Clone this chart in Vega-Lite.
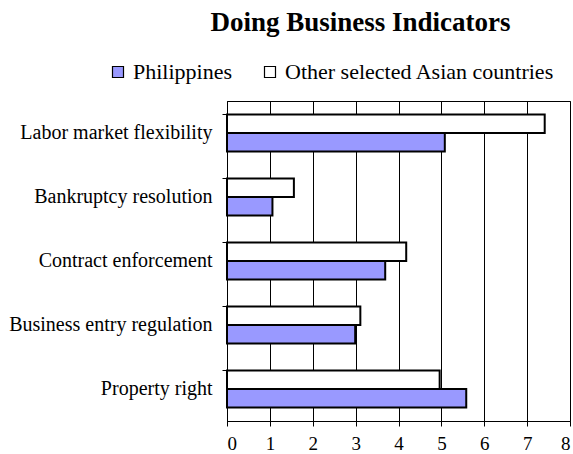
{
  "$schema": "https://vega.github.io/schema/vega-lite/v6.json",
  "width": 343,
  "height": 320,
  "autosize": {"type": "none"},
  "padding": {"left": 227, "top": 101, "right": 3, "bottom": 33},
  "background": "white",
  "title": {"text": "Doing Business Indicators", "font": "Liberation Serif", "fontSize": 27, "fontWeight": "bold", "anchor": "middle", "dx": -38, "dy": -20, "color": "black"},
  "data": {"values": [
    {"indicator": "Labor market flexibility", "series": "Other selected Asian countries", "value": 7.41},
    {"indicator": "Labor market flexibility", "series": "Philippines", "value": 5.08},
    {"indicator": "Bankruptcy resolution", "series": "Other selected Asian countries", "value": 1.56},
    {"indicator": "Bankruptcy resolution", "series": "Philippines", "value": 1.06},
    {"indicator": "Contract enforcement", "series": "Other selected Asian countries", "value": 4.18},
    {"indicator": "Contract enforcement", "series": "Philippines", "value": 3.69},
    {"indicator": "Business entry regulation", "series": "Other selected Asian countries", "value": 3.11},
    {"indicator": "Business entry regulation", "series": "Philippines", "value": 2.99},
    {"indicator": "Property right", "series": "Other selected Asian countries", "value": 4.96},
    {"indicator": "Property right", "series": "Philippines", "value": 5.58}
  ]},
  "mark": {"type": "bar", "stroke": "black", "strokeWidth": 2},
  "encoding": {
    "y": {
      "field": "indicator", "type": "nominal",
      "sort": ["Labor market flexibility", "Bankruptcy resolution", "Contract enforcement", "Business entry regulation", "Property right"],
      "scale": {"paddingInner": 0.42, "paddingOuter": 0.21},
      "axis": {"title": null, "bandPosition": 0, "labelFont": "Liberation Serif", "labelFontSize": 20, "labelLimit": 400, "labelColor": "black", "tickColor": "black", "tickSize": 5, "labelPadding": 10, "domainColor": "black", "grid": false}
    },
    "yOffset": {"field": "series", "sort": ["Other selected Asian countries", "Philippines"]},
    "x": {
      "field": "value", "type": "quantitative",
      "scale": {"domain": [0, 8], "nice": false},
      "axis": {"title": null, "values": [0, 1, 2, 3, 4, 5, 6, 7, 8], "grid": true, "gridColor": "black", "gridOpacity": 1, "tickColor": "black", "tickSize": 5, "domainColor": "black", "labelFont": "Liberation Serif", "labelFontSize": 19, "labelColor": "black", "labelPadding": 8}
    },
    "color": {
      "field": "series", "type": "nominal",
      "scale": {"domain": ["Philippines", "Other selected Asian countries"], "range": ["#9999FF", "#FFFFFF"]},
      "legend": {"orient": "none", "legendX": -120, "legendY": -40, "direction": "horizontal", "title": null, "symbolType": "square", "symbolSize": 121, "symbolStrokeColor": "black", "symbolStrokeWidth": 1.2, "labelFont": "Liberation Serif", "labelFontSize": 22, "labelLimit": 400, "labelColor": "black", "columnPadding": 26, "labelOffset": 4, "padding": 0}
    }
  },
  "config": {"view": {"stroke": "black", "strokeWidth": 1}}
}
